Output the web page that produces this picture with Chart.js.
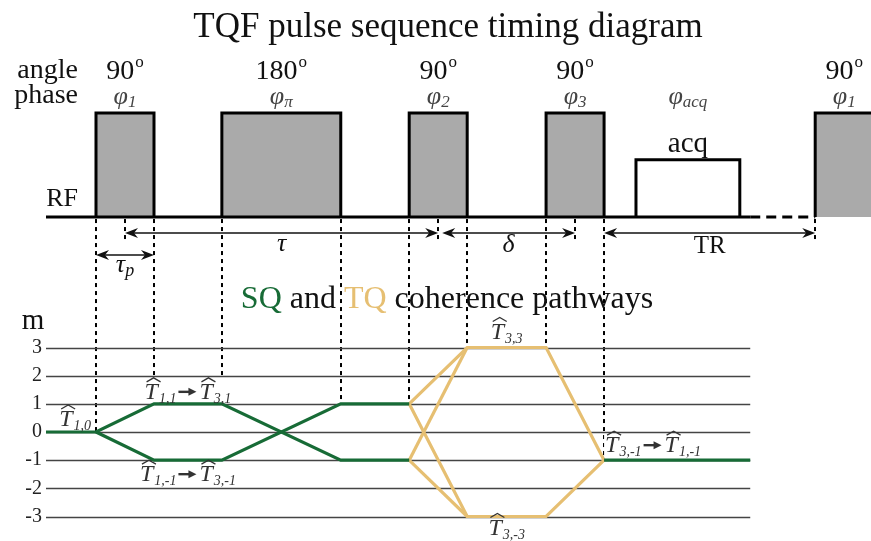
<!DOCTYPE html>
<html>
<head>
<meta charset="utf-8">
<title>TQF pulse sequence timing diagram</title>
<script src="https://cdn.jsdelivr.net/npm/chart.js@4.4.1/dist/chart.umd.min.js"></script>
<style>
  html, body { margin: 0; padding: 0; background: #ffffff; }
  canvas { display: block; }
</style>
</head>
<body>
<canvas id="diagram" width="871" height="541"></canvas>
<script>
// Time is measured in tenths of the 90° pulse duration (tp = 10).
const pulseStart = [0, 21.7, 54.0, 77.6, 124.0];
const pulseEnd   = [10, 42.2, 64.0, 87.6, 135.0];
const pulseAngle = ['90', '180', '90', '90', '90'];
const pulsePhase = ['1', 'π', '2', '3', '1'];
const pulseLevel = 1;            // relative RF amplitude of the pulses
const acqWindow  = [93.1, 111.0];
const acqLevel   = 0.55;
const rfSolidEnd = 112.8;        // RF line is dashed from here to the next pulse
const timeRange  = [-8.62, 133.62];

// Coherence orders shown on the m axis
const mTicks = [3, 2, 1, 0, -1, -2, -3];

// Single-quantum (SQ) pathways
const sqTimesA = [-8.62, 0, 10, 21.7, 42.2, 54.0];
const sqOrderA = [0, 0, 1, 1, -1, -1];
const sqTimesB = [0, 10, 21.7, 42.2, 54.0];
const sqOrderB = [0, -1, -1, 1, 1];
const sqTimesC = [87.6, 112.8];
const sqOrderC = [-1, -1];

// Triple-quantum (TQ) pathways
const tqTimesLong      = [54.0, 64.0, 77.6, 87.6];
const tqOrderUp        = [1, 3, 3, -1];
const tqOrderDown      = [1, -3, -3, -1];
const tqTimesShort     = [54.0, 64.0];
const tqOrderCrossUp   = [-1, 3];
const tqOrderCrossDown = [-1, -3];

// Pulse edges projected down onto the pathway diagram
const edgeTimes  = [0, 10, 21.7, 42.2, 54.0, 64.0, 77.6, 87.6];
const edgeOrders = [0, 1, 1, 1, 1, 3, 3, -1];

// Timing intervals
const tauSpan   = [5, 59];
const deltaSpan = [59, 82.6];
const trSpan    = [87.6, 124.0];
const tpSpan    = [0, 10];

const SQ_COLOR = '#176b36';
const TQ_COLOR = '#e6bf72';
const SERIF = '"Liberation Serif", "DejaVu Serif", serif';
const font = (size, italic) => (italic ? 'italic ' : '') + size + 'px ' + SERIF;

const pts = (ts, vs) => ts.map((t, i) => ({ x: t, y: vs[i] }));
const box = (s, e, h) => [{ x: s, y: 0 }, { x: s, y: h }, { x: e, y: h }, { x: e, y: 0 }];

const pathDs = (data, color) => ({
  data, borderColor: color, borderWidth: 3.2, pointRadius: 0, fill: false,
  tension: 0, yAxisID: 'y', borderJoinStyle: 'miter'
});

const datasets = [
  pathDs(pts(sqTimesA, sqOrderA), SQ_COLOR),
  pathDs(pts(sqTimesB, sqOrderB), SQ_COLOR),
  pathDs(pts(sqTimesC, sqOrderC), SQ_COLOR),
  pathDs(pts(tqTimesLong, tqOrderUp), TQ_COLOR),
  pathDs(pts(tqTimesLong, tqOrderDown), TQ_COLOR),
  pathDs(pts(tqTimesShort, tqOrderCrossUp), TQ_COLOR),
  pathDs(pts(tqTimesShort, tqOrderCrossDown), TQ_COLOR),
  // RF line
  { data: [{ x: timeRange[0], y: 0 }, { x: rfSolidEnd, y: 0 }], borderColor: '#000', borderWidth: 3,
    pointRadius: 0, fill: false, yAxisID: 'rf' },
  { data: [{ x: rfSolidEnd, y: 0 }, { x: pulseStart[4], y: 0 }], borderColor: '#000', borderWidth: 3,
    borderDash: [10, 6], pointRadius: 0, fill: false, yAxisID: 'rf' },
  // acquisition window
  { data: box(acqWindow[0], acqWindow[1], acqLevel), borderColor: '#000', borderWidth: 3,
    backgroundColor: '#ffffff', pointRadius: 0, fill: 'origin', yAxisID: 'rf', borderJoinStyle: 'miter' },
  // RF pulses
  ...pulseStart.map((s, i) => ({
    data: box(s, pulseEnd[i], pulseLevel), borderColor: '#000', borderWidth: 3,
    backgroundColor: '#aaaaaa', pointRadius: 0, fill: 'origin', yAxisID: 'rf', borderJoinStyle: 'miter'
  }))
];

// --- text helpers -------------------------------------------------------
function drawAngle(ctx, cx, base, txt) {
  ctx.font = font(28); const w1 = ctx.measureText(txt).width;
  ctx.font = font(17); const w2 = ctx.measureText('o').width;
  const x0 = cx - (w1 + w2 + 1) / 2;
  ctx.font = font(28); ctx.fillText(txt, x0, base);
  ctx.font = font(17); ctx.fillText('o', x0 + w1 + 1, base - 12);
}
function drawSubbed(ctx, cx, base, main, sub, mainSize, subSize, drop) {
  ctx.font = font(mainSize, true); const w1 = ctx.measureText(main).width;
  ctx.font = font(subSize, true); const w2 = ctx.measureText(sub).width;
  const x0 = cx - (w1 + w2) / 2;
  ctx.font = font(mainSize, true); ctx.fillText(main, x0, base);
  ctx.font = font(subSize, true); ctx.fillText(sub, x0 + w1, base + drop);
}
// Width of one T-hat operator with its subscript
function hatTWidth(ctx, sub) {
  ctx.font = font(24, true); const wT = ctx.measureText('T').width;
  ctx.font = font(14, true); const wS = ctx.measureText(sub).width;
  return wT + wS + 1;
}
function drawHatT(ctx, x, base, sub) {
  ctx.font = font(24, true);
  const wT = ctx.measureText('T').width;
  ctx.fillText('T', x, base);
  const hx = x + wT * 0.6 + 1, top = base - 21;
  ctx.beginPath();
  ctx.moveTo(hx - 7, top + 4); ctx.lineTo(hx, top); ctx.lineTo(hx + 7, top + 4);
  ctx.stroke();
  ctx.font = font(14, true);
  ctx.fillText(sub, x + wT + 1, base + 4);
}
const ARROW_W = 23;
function opLabelWidth(ctx, subs) {
  return subs.reduce((w, s) => w + hatTWidth(ctx, s), 0) + (subs.length - 1) * ARROW_W;
}
function drawOpLabel(ctx, x, base, subs) {
  let cx = x;
  subs.forEach((s, i) => {
    drawHatT(ctx, cx, base, s);
    cx += hatTWidth(ctx, s);
    if (i < subs.length - 1) {
      const ay = base - 7, x1 = cx + 2, x2 = cx + ARROW_W - 3;
      ctx.save(); ctx.lineWidth = 2.4;
      ctx.beginPath(); ctx.moveTo(x1, ay); ctx.lineTo(x2 - 5, ay); ctx.stroke();
      ctx.beginPath(); ctx.moveTo(x2, ay); ctx.lineTo(x2 - 8, ay - 4); ctx.lineTo(x2 - 8, ay + 4);
      ctx.closePath(); ctx.fill(); ctx.restore();
      cx += ARROW_W;
    }
  });
}
function stealth(ctx, tipX, y, dir) {
  const L = 13, W = 5, N = 4;
  ctx.beginPath();
  ctx.moveTo(tipX, y);
  ctx.lineTo(tipX - dir * L, y - W);
  ctx.lineTo(tipX - dir * (L - N), y);
  ctx.lineTo(tipX - dir * L, y + W);
  ctx.closePath(); ctx.fill();
}
function dimArrow(ctx, x1, x2, y) {
  ctx.beginPath(); ctx.moveTo(x1 + 4, y); ctx.lineTo(x2 - 4, y); ctx.stroke();
  stealth(ctx, x1, y, -1); stealth(ctx, x2, y, 1);
}

// Operator labels placed next to the pathway segments they name
function opLabels(x, y) {
  const mid = (a, b) => (x.getPixelForValue(a) + x.getPixelForValue(b)) / 2;
  return [
    { subs: ['1,0'], right: x.getPixelForValue(0) - 5, base: y.getPixelForValue(0) - 6 },
    { subs: ['1,1', '3,1'], center: mid(10, 21.7), base: y.getPixelForValue(1) - 5 },
    { subs: ['1,-1', '3,-1'], center: mid(10, 21.7), base: y.getPixelForValue(-1) + 21 },
    { subs: ['3,3'], center: mid(64, 77.6), base: y.getPixelForValue(3) - 9 },
    { subs: ['3,-3'], center: mid(64, 77.6), base: y.getPixelForValue(-3) + 18 },
    { subs: ['3,-1', '1,-1'], left: x.getPixelForValue(87.6) + 1, base: y.getPixelForValue(-1) - 8 }
  ];
}
function labelLeft(ctx, L) {
  const w = opLabelWidth(ctx, L.subs);
  if (L.left !== undefined) return L.left;
  if (L.right !== undefined) return L.right - w;
  return L.center - w / 2;
}

const annotations = {
  id: 'annotations',
  beforeDatasetsDraw(chart) {
    const { ctx, scales: { x, y, rf } } = chart;
    const base = rf.getPixelForValue(0);
    const arrowY = rf.getPixelForValue(-0.154);
    ctx.save();
    // projections of pulse edges
    ctx.strokeStyle = '#000'; ctx.lineWidth = 2; ctx.setLineDash([4, 4]);
    edgeTimes.forEach((t, i) => {
      const px = Math.round(x.getPixelForValue(t));
      ctx.beginPath(); ctx.moveTo(px, base + 2); ctx.lineTo(px, y.getPixelForValue(edgeOrders[i])); ctx.stroke();
    });
    [tauSpan[0], tauSpan[1], deltaSpan[1], trSpan[1]].forEach(t => {
      const px = Math.round(x.getPixelForValue(t));
      ctx.beginPath(); ctx.moveTo(px, base + 2); ctx.lineTo(px, arrowY + 6); ctx.stroke();
    });
    ctx.setLineDash([]);
    // white backing under operator labels
    ctx.fillStyle = '#ffffff';
    opLabels(x, y).forEach(L => {
      const w = opLabelWidth(ctx, L.subs), lx = labelLeft(ctx, L);
      ctx.fillRect(lx - 1, L.base - 21, w + 2, 24);
    });
    // coherence-order lines
    ctx.strokeStyle = '#444'; ctx.lineWidth = 1.4;
    const gx0 = x.getPixelForValue(timeRange[0]), gx1 = x.getPixelForValue(rfSolidEnd);
    mTicks.forEach(m => {
      const py = Math.round(y.getPixelForValue(m)) + 0.5;
      ctx.beginPath(); ctx.moveTo(gx0, py); ctx.lineTo(gx1, py); ctx.stroke();
    });
    ctx.restore();
  },
  afterDatasetsDraw(chart) {
    const { ctx, scales: { x, y, rf } } = chart;
    const px = t => x.getPixelForValue(t);
    ctx.save();
    ctx.fillStyle = '#111'; ctx.strokeStyle = '#111';
    ctx.textBaseline = 'alphabetic';

    // title
    ctx.textAlign = 'center'; ctx.font = font(35);
    ctx.fillText('TQF pulse sequence timing diagram', 448, 37);

    // row captions
    ctx.textAlign = 'right'; ctx.font = font(28);
    ctx.fillText('angle', 78, 78);
    ctx.fillText('phase', 78, 103);
    ctx.font = font(26);
    ctx.fillText('RF', 78, 206);
    ctx.textAlign = 'center'; ctx.font = font(29);
    ctx.fillText('m', 33, 329);

    // flip angles and phases
    ctx.textAlign = 'left';
    pulseStart.forEach((s, i) => {
      const e = i === pulseStart.length - 1 ? s + 10 : pulseEnd[i];
      const cx = (px(s) + px(e)) / 2;
      ctx.fillStyle = '#111';
      drawAngle(ctx, cx, 79, pulseAngle[i]);
      ctx.fillStyle = '#444';
      drawSubbed(ctx, cx, 104, 'φ', pulsePhase[i], 26, 17, 3);
    });
    const acqCx = (px(acqWindow[0]) + px(acqWindow[1])) / 2;
    drawSubbed(ctx, acqCx, 104, 'φ', 'acq', 26, 17, 3);
    ctx.fillStyle = '#111';
    ctx.textAlign = 'center'; ctx.font = font(29);
    ctx.fillText('acq', acqCx, 152);

    // timing intervals
    ctx.lineWidth = 1.6;
    const arrowY = rf.getPixelForValue(-0.154);
    const tpY = rf.getPixelForValue(-0.365);
    dimArrow(ctx, px(tauSpan[0]), px(tauSpan[1]), arrowY);
    dimArrow(ctx, px(deltaSpan[0]) + 4, px(deltaSpan[1]), arrowY);
    dimArrow(ctx, px(trSpan[0]), px(trSpan[1]), arrowY);
    dimArrow(ctx, px(tpSpan[0]), px(tpSpan[1]), tpY);
    ctx.textAlign = 'center';
    ctx.font = font(26, true);
    ctx.fillText('τ', (px(tauSpan[0]) + px(tauSpan[1])) / 2, arrowY + 18);
    ctx.fillText('δ', (px(deltaSpan[0]) + 4 + px(deltaSpan[1])) / 2, arrowY + 19);
    ctx.font = font(25);
    ctx.fillText('TR', (px(trSpan[0]) + px(trSpan[1])) / 2, arrowY + 20);
    ctx.textAlign = 'left';
    drawSubbed(ctx, (px(tpSpan[0]) + px(tpSpan[1])) / 2, tpY + 17, 'τ', 'p', 26, 18, 4);

    // subtitle with colour-coded pathway names
    const parts = [['SQ', SQ_COLOR], [' and ', '#111'], ['TQ', TQ_COLOR], [' coherence pathways', '#111']];
    ctx.font = font(32);
    const total = parts.reduce((w, p) => w + ctx.measureText(p[0]).width, 0);
    let sx = 447 - total / 2;
    parts.forEach(([t, c]) => { ctx.fillStyle = c; ctx.fillText(t, sx, 308); sx += ctx.measureText(t).width; });

    // operator labels on the pathways
    ctx.fillStyle = '#333'; ctx.strokeStyle = '#333'; ctx.lineWidth = 1.3;
    opLabels(x, y).forEach(L => drawOpLabel(ctx, labelLeft(ctx, L), L.base, L.subs));
    ctx.restore();
  }
};

new Chart(document.getElementById('diagram'), {
  type: 'line',
  data: { datasets },
  options: {
    responsive: false,
    animation: false,
    devicePixelRatio: 1,
    layout: { padding: 0 },
    plugins: { legend: { display: false }, tooltip: { enabled: false }, title: { display: false } },
    scales: {
      x: { type: 'linear', min: timeRange[0], max: timeRange[1], display: false },
      y: {
        type: 'linear', position: 'left', min: -3.869, max: 15.336,
        grid: { display: false, drawTicks: false }, border: { display: false },
        ticks: { padding: 4, color: '#222', font: { family: SERIF, size: 20 }, callback: v => String(v) },
        afterBuildTicks: s => { s.ticks = mTicks.map(v => ({ value: v })); },
        afterFit: s => { s.width = 46; s.paddingTop = 0; s.paddingBottom = 0; }
      },
      rf: { type: 'linear', position: 'left', min: -3.115, max: 2.087, display: false }
    }
  },
  plugins: [annotations]
});
</script>
</body>
</html>
